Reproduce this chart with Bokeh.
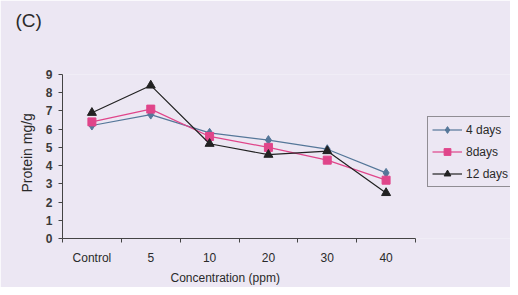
from bokeh.plotting import figure
from bokeh.models import FixedTicker, Legend, LegendItem, Range1d, Title
from bokeh.embed import file_html
from bokeh.resources import INLINE

categories = ["Control", "5", "10", "20", "30", "40"]
days4 = [6.2, 6.8, 5.8, 5.4, 4.9, 3.6]
days8 = [6.4, 7.1, 5.6, 5.0, 4.3, 3.2]
days12 = [6.9, 8.4, 5.2, 4.6, 4.8, 2.5]
series_names = ["4 days", "8days", "12 days"]
y_ticks = list(range(0, 10))
panel_label = "(C)"
x_title = "Concentration (ppm)"
y_title = "Protein mg/g"

BG = "#ece7f3"
TXT = "#2a2a2a"
FONT = "Liberation Sans"

W, H = 510, 287
LEFT, TOP, BOTTOM = 62, 74, 49
AXIS_PX = 353  # pixel length of the drawn x axis

n = len(categories)
xs = [i + 0.5 for i in range(n)]
x_end = n * (W - LEFT) / AXIS_PX

p = figure(width=W, height=H, output_backend="svg", toolbar_location=None,
           x_range=Range1d(0, x_end), y_range=Range1d(0, 9), title=None)
p.min_border_left = LEFT
p.min_border_right = 0
p.min_border_top = TOP
p.min_border_bottom = BOTTOM
p.background_fill_color = BG
p.border_fill_color = BG
p.outline_line_color = None
p.xgrid.visible = False
p.ygrid.visible = False

# panel label: spacer title next to the frame, then the label above it
spacer = Title(text=" ", text_font=FONT, text_font_size="16px", standoff=23)
p.add_layout(spacer, "above")
ctitle = Title(text=panel_label, align="left", offset=-47, standoff=4,
               text_font=FONT, text_font_size="19px", text_font_style="normal",
               text_color=TXT)
p.add_layout(ctitle, "above")

# x axis
p.xaxis.bounds = (0, n)
p.xaxis.ticker = FixedTicker(ticks=xs, minor_ticks=list(range(0, n + 1)))
p.xaxis.major_label_overrides = {x: c for x, c in zip(xs, categories)}
p.xaxis.major_tick_out = 0
p.xaxis.major_tick_in = 0
p.xaxis.minor_tick_out = 4
p.xaxis.minor_tick_in = 0
p.xaxis.major_label_standoff = 8

xtitle = Title(text=x_title, align="left", offset=108, standoff=2,
               text_font=FONT, text_font_size="12px", text_font_style="normal",
               text_color=TXT)
p.add_layout(xtitle, "below")

# y axis
p.yaxis.ticker = FixedTicker(ticks=y_ticks)
p.yaxis.major_tick_out = 4
p.yaxis.major_tick_in = 0
p.yaxis.minor_tick_out = 0
p.yaxis.minor_tick_in = 0
p.yaxis.major_label_standoff = 6

ytitle = Title(text=y_title, align="left", offset=46, standoff=16,
               text_font=FONT, text_font_size="14px", text_font_style="normal",
               text_color=TXT)
p.add_layout(ytitle, "left")

for ax in (p.xaxis[0], p.yaxis[0]):
    ax.axis_line_color = "#444444"
    ax.major_tick_line_color = "#444444"
    ax.minor_tick_line_color = "#444444"
    ax.major_label_text_font = FONT
    ax.major_label_text_font_size = "12px"
    ax.major_label_text_color = TXT

p.yaxis.major_label_text_font_style = "bold"
p.yaxis.major_label_text_color = "#3a3a3a"

c4, c8, c12 = "#557799", "#e0458a", "#222222"

l4 = p.line(xs, days4, line_color=c4, line_width=1.2)
m4 = p.scatter(xs, days4, marker="diamond", size=9, fill_color=c4, line_color=c4)
l8 = p.line(xs, days8, line_color=c8, line_width=1.2)
m8 = p.scatter(xs, days8, marker="square", size=8, fill_color=c8, line_color=c8)
l12 = p.line(xs, days12, line_color=c12, line_width=1.2)
m12 = p.scatter(xs, days12, marker="triangle", size=9, fill_color=c12, line_color=c12)

legend = Legend(items=[
    LegendItem(label=series_names[0], renderers=[l4, m4]),
    LegendItem(label=series_names[1], renderers=[l8, m8]),
    LegendItem(label=series_names[2], renderers=[l12, m12]),
], location=(365, 51))
legend.border_line_color = "#333333"
legend.border_line_width = 1
legend.background_fill_color = BG
legend.background_fill_alpha = 1
legend.label_text_font = FONT
legend.label_text_font_size = "12px"
legend.label_text_color = TXT
legend.glyph_width = 30
legend.glyph_height = 17
legend.label_height = 17
legend.label_standoff = 4
legend.spacing = 5
legend.padding = 4
legend.margin = 0
p.add_layout(legend, "center")

open("out.html", "w").write(file_html(p, INLINE))
